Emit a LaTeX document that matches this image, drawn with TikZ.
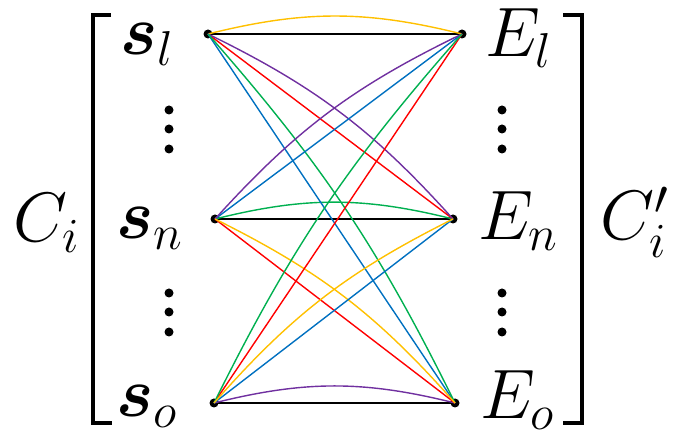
\RequirePackage{fix-cm}
\documentclass[tikz,border=0pt]{standalone}
\usepackage{amsmath,amssymb,bm}
\usetikzlibrary{positioning, calc}

\definecolor{cyellow}{HTML}{FFC000}
\definecolor{cgreen}{HTML}{00B050}
\definecolor{cred}{HTML}{FF0000}
\definecolor{cpurple}{HTML}{7030A0}
\definecolor{cblue}{HTML}{0070C0}

\begin{document}
\begin{tikzpicture}[
		x=1pt, y=1pt,
		font=\fontsize{70}{84}\selectfont,
		lbl/.style={inner sep=0pt, anchor=base west},
		pt/.style={circle, fill=black, minimum size=9pt, inner sep=0pt},
		link/.style={line width=1.4pt},
		brkt/.style={line width=4.5pt, line join=miter},
		arcflat/.style={bend left=14},
		arcmid/.style={bend left=11},
		arclong/.style={bend left=7.5}
		]
		\useasboundingbox (0,0) rectangle (682,441);
		
		% 1. End points
		\node[pt] (sl) at (208,407) {};
		\node[pt] (sn) at (215,222) {};
		\node[pt] (so) at (214,38) {};
		\node[pt] (el) at (462,407) {};
		\node[pt] (en) at (453,222) {};
		\node[pt] (eo) at (455,38) {};
		
		% 2. Labels
		\node[lbl] (sllbl) at (120,386) {$\boldsymbol{s}_l$};
		\node[lbl] (snlbl) at (116,202) {$\boldsymbol{s}_n$};
		\node[lbl] (solbl) at (116,24) {$\boldsymbol{s}_o$};
		\node[lbl] (ellbl) at (485,384) {$E_l$};
		\node[lbl] (enlbl) at (478,201) {$E_n$};
		\node[lbl] (eolbl) at (480,22) {$E_o$};
		\node[lbl] (cin) at (13,199) {$C_i$};
		\node[lbl] (cout) at (600,201) {$C_i'$};
		
		% 3. Brackets and dots
		\draw[brkt] (111,426) -- (93,426) -- (93,18) -- (112,18);
		\draw[brkt] (563,426) -- (582,426) -- (582,18) -- (563,18);
		\foreach \x in {169,502}
			\foreach \y in {331,312,292,148,129,109}
				\fill (\x,\y) circle (4.5);
		
		% 4. Links
		\draw[link] (sl.center) -- (el.center);
		\draw[link] (sn.center) -- (en.center);
		\draw[link] (so.center) -- (eo.center);
		\draw[link, cyellow] (sl.center) to[arcflat] (el.center);
		\draw[link, cgreen] (sn.center) to[arcflat] (en.center);
		\draw[link, cpurple] (so.center) to[arcflat] (eo.center);
		
		\draw[link, cred] (sl.center) -- (en.center);
		\draw[link, cpurple] (sl.center) to[arcmid] (en.center);
		\draw[link, cblue] (sl.center) -- (eo.center);
		\draw[link, cgreen] (sl.center) to[arclong] (eo.center);
		
		\draw[link, cblue] (sn.center) -- (el.center);
		\draw[link, cpurple] (sn.center) to[arcmid] (el.center);
		\draw[link, cred] (sn.center) -- (eo.center);
		\draw[link, cyellow] (sn.center) to[arcmid] (eo.center);
		
		\draw[link, cred] (so.center) -- (el.center);
		\draw[link, cgreen] (so.center) to[arclong] (el.center);
		\draw[link, cblue] (so.center) -- (en.center);
		\draw[link, cyellow] (so.center) to[arcmid] (en.center);
	\end{tikzpicture}
\end{document}
